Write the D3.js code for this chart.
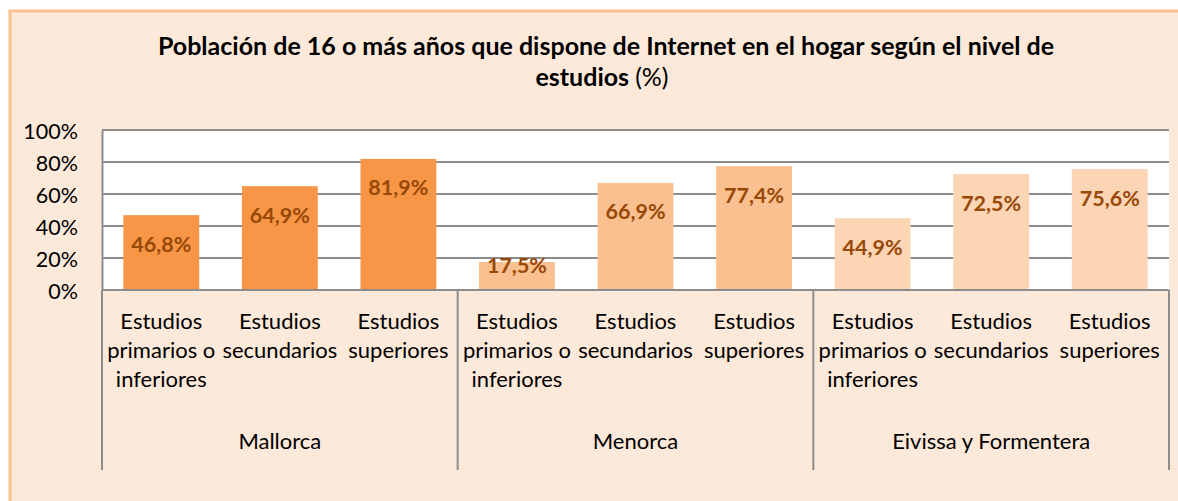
<!DOCTYPE html>
<html>
<head>
<meta charset="utf-8">
<script src="https://cdn.jsdelivr.net/npm/d3@7"></script>
<style>
  body { margin: 0; background: #fff; }
  text { font-family: Lato, "Open Sans", sans-serif; }
</style>
</head>
<body>
<script>
// data
var islands = ["Mallorca", "Menorca", "Eivissa y Formentera"];
var levels = [["Estudios", "primarios o", "inferiores"], ["Estudios", "secundarios"], ["Estudios", "superiores"]];
var mallorca = [46.8, 64.9, 81.9];
var menorca = [17.5, 66.9, 77.4];
var eivissa = [44.9, 72.5, 75.6];
var yTicks = [0, 20, 40, 60, 80, 100];
var islandColors = ["#F79646", "#FAC090", "#FCD5B5"];

var width = 1178, height = 501;
var plot = {left: 102, right: 1169, top: 130, bottom: 290};

var rows = [];
[mallorca, menorca, eivissa].forEach(function(series, g) {
  series.forEach(function(v, i) {
    rows.push({island: g, level: i, key: g + "-" + i, value: v});
  });
});

var svg = d3.select("body").append("svg")
    .attr("width", width).attr("height", height);

// chart area
svg.append("rect")
    .attr("x", 10).attr("y", 11)
    .attr("width", width + 20).attr("height", height + 20)
    .attr("fill", "#FDE9D9")
    .attr("stroke", "#FAC090").attr("stroke-width", 3);

// title
var title = svg.append("text")
    .attr("text-anchor", "middle")
    .attr("font-size", 25).attr("font-weight", "bold").attr("fill", "#000");
title.append("tspan").attr("x", 606).attr("y", 54.5)
    .text("Población de 16 o más años que dispone de Internet en el hogar según el nivel de");
var t2 = title.append("tspan").attr("x", 602).attr("y", 86);
t2.append("tspan").text("estudios ");
t2.append("tspan").attr("font-weight", "normal").text("(%)");

var x = d3.scaleBand()
    .domain(rows.map(function(d) { return d.key; }))
    .range([plot.left, plot.right])
    .paddingInner(0.36).paddingOuter(0.18);

var y = d3.scaleLinear().domain([0, 100]).range([plot.bottom, plot.top]);

svg.append("rect")
    .attr("x", plot.left).attr("y", plot.top)
    .attr("width", plot.right - plot.left).attr("height", plot.bottom - plot.top)
    .attr("fill", "#fff");

// gridlines
svg.append("g")
    .selectAll("line").data(yTicks).enter().append("line")
    .attr("x1", plot.left).attr("x2", plot.right)
    .attr("y1", function(d) { return y(d); }).attr("y2", function(d) { return y(d); })
    .attr("stroke", "#8c8c8c").attr("stroke-width", 2);

// y axis
var yAxis = svg.append("g")
    .attr("transform", "translate(" + plot.left + ",0)")
    .call(d3.axisLeft(y).tickValues(yTicks).tickSize(0).tickPadding(24)
      .tickFormat(function(d) { return d + "%"; }));
yAxis.select(".domain").attr("stroke", "#8c8c8c").attr("stroke-width", 2);
yAxis.selectAll("text")
    .attr("font-size", 21.5).attr("fill", "#000").attr("dy", "0.38em")
    .style("font-family", "Lato, sans-serif");

// bars
svg.append("g")
    .selectAll("rect").data(rows).enter().append("rect")
    .attr("x", function(d) { return x(d.key); })
    .attr("width", x.bandwidth())
    .attr("y", function(d) { return y(d.value); })
    .attr("height", function(d) { return y(0) - y(d.value); })
    .attr("fill", function(d) { return islandColors[d.island]; });

svg.append("line")
    .attr("x1", plot.left).attr("x2", plot.right)
    .attr("y1", plot.bottom).attr("y2", plot.bottom)
    .attr("stroke", "#8c8c8c").attr("stroke-width", 2);

// value labels
svg.append("g")
    .selectAll("text").data(rows).enter().append("text")
    .attr("x", function(d) { return x(d.key) + x.bandwidth() / 2; })
    .attr("y", function(d) { return Math.min(y(d.value) + 29, y(0) - 24.5); })
    .attr("dy", "0.35em")
    .attr("text-anchor", "middle")
    .attr("font-size", 21.5).attr("font-weight", "bold").attr("fill", "#984807")
    .text(function(d) { return d3.format(".1f")(d.value).replace(".", ",") + "%"; });

// category labels
var cats = svg.append("g")
    .selectAll("text").data(rows).enter().append("text")
    .attr("text-anchor", "middle")
    .attr("font-size", 22).attr("fill", "#000");
cats.each(function(d) {
  var cx = x(d.key) + x.bandwidth() / 2;
  d3.select(this).selectAll("tspan").data(levels[d.level]).enter().append("tspan")
      .attr("x", cx)
      .attr("y", function(s, i) { return 329.3 + i * 28.7; })
      .text(function(s) { return s; });
});

// island labels and separators
var groupW = (plot.right - plot.left) / islands.length;
svg.append("g")
    .selectAll("text").data(islands).enter().append("text")
    .attr("x", function(d, i) { return plot.left + groupW * (i + 0.5); })
    .attr("y", 449)
    .attr("text-anchor", "middle")
    .attr("font-size", 22).attr("fill", "#000")
    .text(function(d) { return d; });

svg.append("g")
    .selectAll("line").data(d3.range(islands.length + 1)).enter().append("line")
    .attr("x1", function(i) { return plot.left + groupW * i; })
    .attr("x2", function(i) { return plot.left + groupW * i; })
    .attr("y1", plot.bottom).attr("y2", 470)
    .attr("stroke", "#8c8c8c").attr("stroke-width", 2);
</script>
</body>
</html>
